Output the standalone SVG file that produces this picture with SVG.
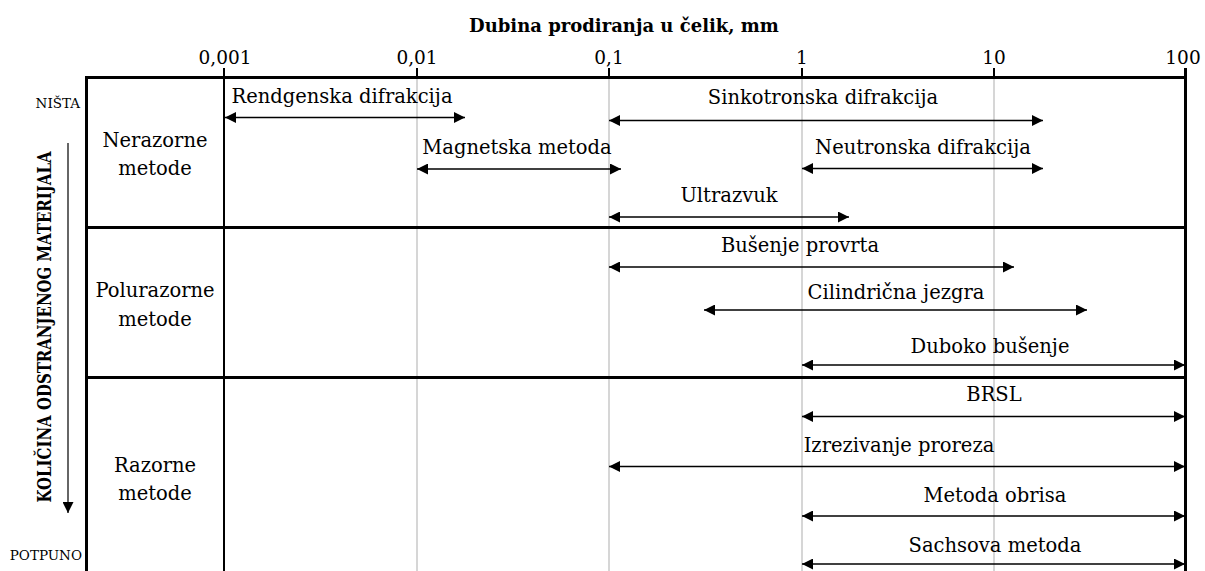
<svg xmlns="http://www.w3.org/2000/svg" width="1205" height="571" viewBox="0 0 1205 571">
<defs>
<style>
text{font-family:"DejaVu Serif","Liberation Serif",serif;fill:#000}
.t{font-size:19.5px}
.c{text-anchor:middle}
.ax{font-size:18.5px;text-anchor:middle}
.sm{font-size:13.5px;text-anchor:end}
.grid{stroke:#cccccc;stroke-width:1.6}
.tick{stroke:#000;stroke-width:2}
.frame{stroke:#000;stroke-width:3;fill:none}
.arr{stroke:#000;stroke-width:1.7;marker-start:url(#ah);marker-end:url(#ah)}
</style>
<marker id="ah" viewBox="0 0 10 10" refX="10" refY="5" markerWidth="13" markerHeight="11" markerUnits="userSpaceOnUse" orient="auto-start-reverse">
<path d="M0,0 L10,5 L0,10 z" fill="#000"/>
</marker>
<marker id="ahd" viewBox="0 0 10 10" refX="10" refY="5" markerWidth="13" markerHeight="11" markerUnits="userSpaceOnUse" orient="auto">
<path d="M0,0 L10,5 L0,10 z" fill="#000"/>
</marker>
</defs>
<rect width="1205" height="571" fill="#fff"/>

<g id="axis">
<text x="624" y="32" style="font-size:18px;font-weight:bold" text-anchor="middle">Dubina prodiranja u čelik, mm</text>
<text class="ax" x="225" y="64">0,001</text>
<text class="ax" x="417" y="64">0,01</text>
<text class="ax" x="609" y="64">0,1</text>
<text class="ax" x="802" y="64">1</text>
<text class="ax" x="994" y="64">10</text>
<text class="ax" x="1183" y="64">100</text>
</g>

<g id="grid">
<line class="grid" x1="417" y1="77" x2="417" y2="571"/>
<line class="grid" x1="609" y1="77" x2="609" y2="571"/>
<line class="grid" x1="802" y1="77" x2="802" y2="571"/>
<line class="grid" x1="994" y1="77" x2="994" y2="571"/>
<line class="tick" x1="417" y1="68" x2="417" y2="77"/>
<line class="tick" x1="609" y1="68" x2="609" y2="77"/>
<line class="tick" x1="802" y1="68" x2="802" y2="77"/>
<line class="tick" x1="994" y1="68" x2="994" y2="77"/>
<line class="tick" x1="224" y1="68" x2="224" y2="571"/>
</g>

<g id="frame">
<polyline class="frame" points="86.5,571 86.5,77.5 1185.5,77.5 1185.5,571"/>
<line class="frame" x1="1185.5" y1="68" x2="1185.5" y2="78"/>
<line class="frame" x1="86" y1="227.5" x2="1186" y2="227.5"/>
<line class="frame" x1="86" y1="377.5" x2="1186" y2="377.5"/>
</g>

<g id="side">
<text class="sm" x="80" y="108">NIŠTA</text>
<text class="sm" x="82" y="560">POTPUNO</text>
<text transform="translate(51,327) rotate(-90)" text-anchor="middle" style="font-size:18px;font-weight:bold" textLength="351" lengthAdjust="spacingAndGlyphs">KOLIČINA ODSTRANJENOG MATERIJALA</text>
<line x1="68" y1="143" x2="68" y2="513" stroke="#333" stroke-width="1.5" marker-end="url(#ahd)"/>
</g>

<g id="cat-nerazorne">
<text class="t c" x="155" y="147">Nerazorne</text>
<text class="t c" x="155" y="175">metode</text>
</g>
<g id="cat-polurazorne">
<text class="t c" x="155" y="297">Polurazorne</text>
<text class="t c" x="155" y="326">metode</text>
</g>
<g id="cat-razorne">
<text class="t c" x="155" y="472">Razorne</text>
<text class="t c" x="155" y="500">metode</text>
</g>

<g id="labels">
<text class="t c" x="342" y="103">Rendgenska difrakcija</text>
<text class="t c" x="823" y="104">Sinkotronska difrakcija</text>
<text class="t c" x="517" y="154">Magnetska metoda</text>
<text class="t c" x="923" y="154">Neutronska difrakcija</text>
<text class="t c" x="729" y="202">Ultrazvuk</text>
<text class="t c" x="800" y="252">Bušenje provrta</text>
<text class="t c" x="896" y="299">Cilindrična jezgra</text>
<text class="t c" x="990" y="353">Duboko bušenje</text>
<text class="t c" x="994" y="401">BRSL</text>
<text class="t c" x="899" y="452">Izrezivanje proreza</text>
<text class="t c" x="995" y="502">Metoda obrisa</text>
<text class="t c" x="995" y="552">Sachsova metoda</text>
</g>

<g id="connectors">
<line class="arr" x1="225" y1="117.5" x2="465" y2="117.5"/>
<line class="arr" x1="609" y1="120.5" x2="1043" y2="120.5"/>
<line class="arr" x1="417" y1="169" x2="621" y2="169"/>
<line class="arr" x1="802" y1="168.5" x2="1043" y2="168.5"/>
<line class="arr" x1="609" y1="217" x2="849" y2="217"/>
<line class="arr" x1="609" y1="267" x2="1014" y2="267"/>
<line class="arr" x1="704" y1="310" x2="1087" y2="310"/>
<line class="arr" x1="802" y1="365" x2="1185" y2="365"/>
<line class="arr" x1="802" y1="416.5" x2="1185" y2="416.5"/>
<line class="arr" x1="609" y1="466.5" x2="1185" y2="466.5"/>
<line class="arr" x1="802" y1="516" x2="1185" y2="516"/>
<line class="arr" x1="802" y1="564" x2="1185" y2="564"/>
</g>
</svg>
